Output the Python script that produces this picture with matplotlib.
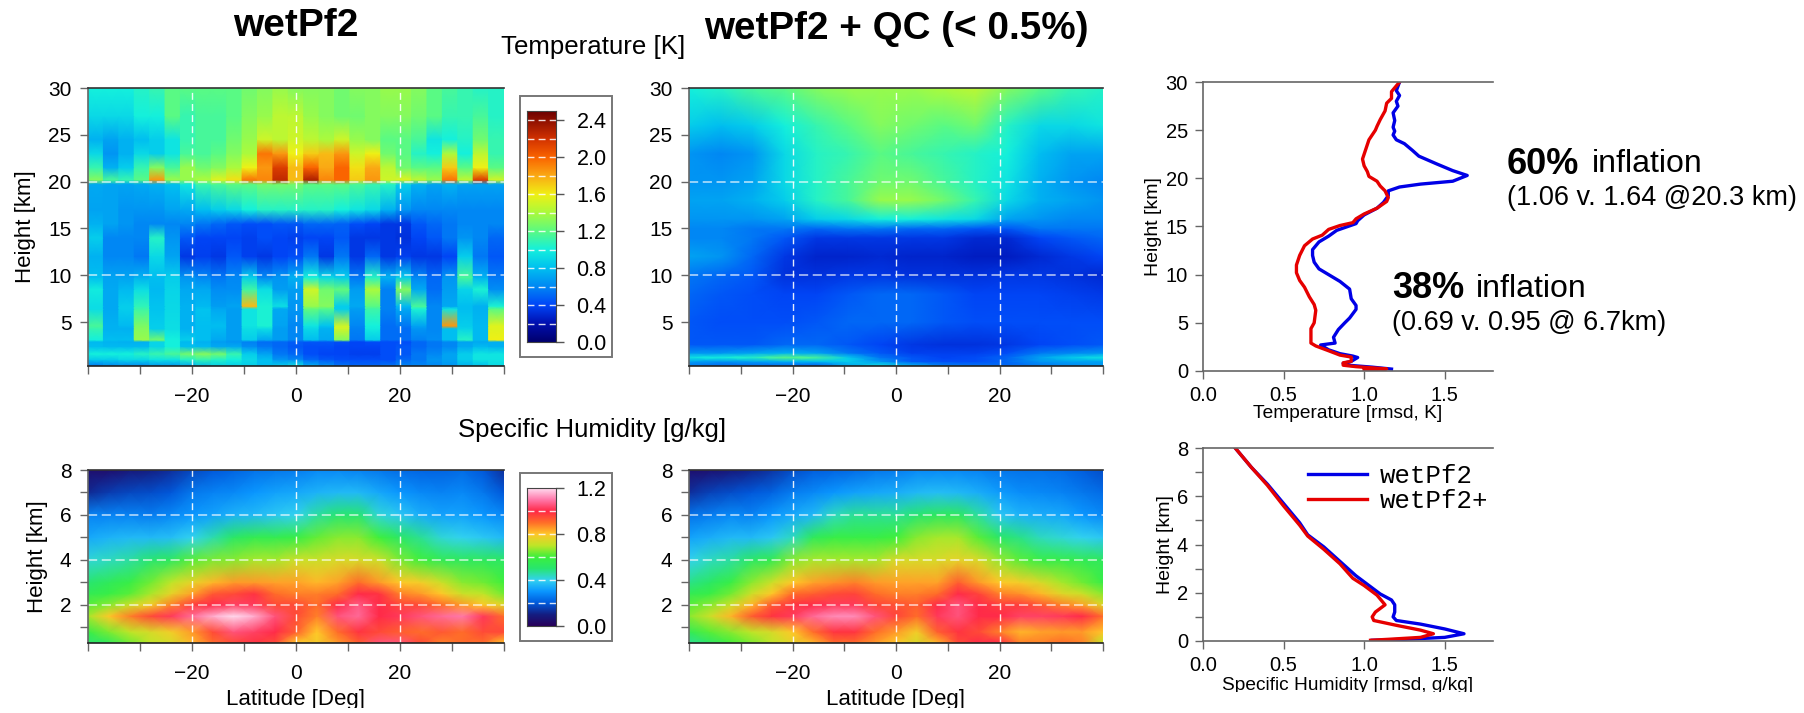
import numpy as np
import matplotlib
matplotlib.use("Agg")
from matplotlib import pyplot as plt
from matplotlib.colors import LinearSegmentedColormap
from matplotlib.patches import Rectangle
from matplotlib.ticker import MultipleLocator

plt.rcParams["font.family"] = ["Liberation Sans", "DejaVu Sans"]
plt.rcParams["axes.unicode_minus"] = True

W, H = 1804, 713

# temperature rmsd, wetPf2
t_heights = [0.3, 1.0, 1.6, 2.4, 2.9, 3.1, 4.3, 4.6, 6.4, 6.7, 8.5, 9.8, 12, 14, 15.5, 17, 19.7, 20.2, 21.5, 23, 24.5, 27, 30]
t_wet = [
    [.55,.6,.6,.6,.65,.65,.7,.8,.85,.85,.85,.8,.85,.95,.75,.65,.55,.5,.5,.55,.6,.6,.6,.65,.75,.8,.9],
    [.85,.85,.9,.9,.95,.95,1.05,1.1,1.05,1.0,.9,.8,.65,.6,.5,.45,.42,.42,.42,.42,.5,.55,.65,.7,.85,.95,.95],
    [1.0,1.0,1.0,1.05,1.1,1.15,1.25,1.3,1.25,1.1,.85,.7,.55,.5,.42,.4,.4,.38,.38,.42,.45,.55,.6,.7,.85,.95,.95],
    [.8,.78,.78,.78,.88,1.0,.8,.78,.72,.72,.62,.55,.5,.45,.42,.42,.4,.4,.4,.42,.45,.5,.55,.6,.72,.78,.75],
    [.78,.76,.75,.75,.88,1.0,.78,.75,.68,.65,.58,.52,.5,.47,.45,.45,.42,.4,.42,.42,.42,.5,.55,.6,.7,.72,.74],
    [1.0,.8,.8,1.35,1.25,1.0,.85,.8,.72,.68,.85,.72,.68,.6,.8,.72,1.3,.55,.85,.52,.52,.58,.62,.8,1.05,.78,1.6],
    [1.1,.75,.75,1.3,.85,.92,.75,.8,.78,.68,.92,.92,.68,.6,.9,.75,1.5,.58,.98,.52,.52,.65,.6,.8,.88,.78,1.55],
    [1.15,.75,.78,1.28,.85,.92,.75,.8,.8,.68,.95,1.02,.7,.6,.95,.82,1.5,.6,1.0,.52,.55,.7,.6,1.85,.85,.78,1.55],
    [.92,.72,.85,1.12,.82,.9,.75,.82,.72,.68,.95,1.02,.72,.65,1.22,1.18,.85,.68,1.12,.58,.72,1.02,.6,.95,.8,.75,1.2],
    [.92,.72,.85,1.08,.82,.9,.75,.78,.68,.7,1.75,1.02,.92,.65,1.35,1.3,.85,.72,1.2,.58,.78,1.15,.6,.72,.8,.75,1.02],
    [.98,.72,.78,.92,.78,.88,.72,.72,.62,.62,1.12,.92,.68,.68,1.5,1.25,1.22,.68,1.4,.58,1.3,.72,.52,.68,.88,1.02,.62],
    [.8,.7,.7,.75,.8,.85,.65,.6,.55,.6,.85,.6,.65,.75,1.0,.9,.85,.55,1.05,.75,.85,.6,.5,.65,1.15,.75,.55],
    [.75,.6,.6,.55,.9,.7,.35,.38,.35,.45,.38,.35,.4,.42,.55,.35,.55,.35,.5,.35,.38,.35,.35,.4,.85,.55,.45],
    [.85,.6,.6,.6,1.05,.65,.45,.4,.4,.4,.38,.42,.4,.38,.4,.4,.45,.35,.35,.35,.33,.4,.45,.55,.65,.6,.5],
    [.75,.7,.65,.6,.6,.6,.6,.55,.5,.45,.42,.42,.45,.45,.5,.5,.48,.42,.4,.35,.35,.45,.5,.55,.6,.6,.6],
    [.7,.7,.65,.65,.65,.7,.72,.8,.85,.9,1.0,1.05,1.05,1.05,1.05,1.05,1.0,.95,.9,.75,.65,.6,.6,.6,.6,.6,.6],
    [.72,.7,.7,.72,.75,.8,.95,1.1,1.15,1.2,1.2,1.25,1.25,1.25,1.2,1.2,1.2,1.15,1.1,1.05,.85,.75,.7,.75,.7,.7,.7],
    [1.3,1.15,1.1,1.2,1.85,1.35,1.35,1.4,1.55,1.65,1.95,1.9,2.25,1.75,2.3,1.9,2.0,1.7,1.85,1.5,1.55,1.45,1.35,1.95,1.45,2.15,1.5],
    [1.1,.75,.85,1.1,1.3,1.15,1.35,1.25,1.3,1.4,1.6,1.85,2.15,1.75,2.0,1.8,2.0,1.65,1.8,1.45,1.25,1.2,1.2,1.7,1.2,1.6,1.2],
    [.9,.65,.75,.9,.85,.95,1.15,1.15,1.2,1.3,1.4,1.95,1.85,1.6,1.7,1.75,1.85,1.5,1.6,1.25,1.2,1.05,1.0,1.4,1.0,1.45,1.1],
    [.75,.7,.75,.8,.85,.95,1.1,1.15,1.15,1.25,1.35,1.5,1.45,1.5,1.45,1.4,1.5,1.35,1.3,1.2,1.2,1.15,.95,1.0,1.05,1.25,1.1],
    [.9,.9,.9,1.0,1.0,1.2,1.1,1.15,1.15,1.2,1.3,1.35,1.45,1.45,1.35,1.3,1.25,1.25,1.3,1.3,1.3,1.25,1.2,1.1,1.1,1.15,1.05],
    [1.0,1.0,1.0,1.05,1.1,1.2,1.2,1.2,1.2,1.2,1.25,1.3,1.35,1.3,1.3,1.3,1.25,1.3,1.3,1.35,1.35,1.3,1.2,1.15,1.1,1.05,1.05],
]

# temperature rmsd, wetPf2 + QC
tqc_heights = [0.3, 0.8, 1.2, 1.7, 2.6, 5, 8, 10, 12, 14, 15, 16, 18, 20, 23, 26, 30]
t_qc = [
    [.55,.5,.5,.5,.45,.7,.95,.8,.6,.55,.5,.55,.6,.65],
    [.7,.65,.7,.75,.8,.85,.65,.45,.42,.42,.5,.65,.7,.7],
    [.95,1.0,1.05,1.2,1.15,.85,.55,.45,.4,.42,.5,.7,.85,.95],
    [.65,.65,.7,.75,.7,.55,.45,.38,.38,.38,.42,.55,.6,.65],
    [.45,.45,.45,.5,.5,.45,.4,.35,.33,.33,.35,.4,.42,.45],
    [.45,.42,.42,.42,.45,.5,.5,.5,.45,.42,.42,.42,.42,.42],
    [.5,.45,.42,.4,.4,.45,.5,.5,.45,.4,.4,.4,.38,.36],
    [.55,.5,.45,.33,.33,.35,.35,.33,.33,.33,.35,.35,.33,.3],
    [.7,.65,.5,.35,.28,.28,.3,.28,.28,.25,.25,.3,.35,.4],
    [.6,.6,.55,.45,.35,.35,.35,.35,.35,.3,.3,.4,.45,.5],
    [.6,.6,.55,.55,.5,.55,.55,.5,.5,.45,.45,.55,.55,.55],
    [.65,.65,.65,.7,.85,.9,1.0,1.0,.95,.9,.7,.65,.6,.6],
    [.7,.7,.75,.85,1.05,1.15,1.35,1.35,1.25,1.1,.9,.75,.7,.65],
    [.65,.65,.7,.9,1.05,1.15,1.25,1.25,1.15,1.05,.95,.75,.65,.6],
    [.65,.6,.65,.9,1.05,1.1,1.2,1.15,1.1,1.05,1.0,.8,.7,.7],
    [.85,.8,.85,1.0,1.1,1.2,1.3,1.25,1.2,1.25,1.05,.9,.9,.95],
    [1.0,1.05,1.15,1.2,1.3,1.35,1.35,1.35,1.4,1.45,1.3,1.2,1.1,1.05],
]

# specific humidity rmsd
q_heights = [0.3, 0.8, 1.5, 2, 2.5, 3, 4, 5, 6, 7, 8]
q_wet = [
    [.5,.54,.64,.7,.74,.82,.9,.95,.98,.95,.8,.78,.85,.92,1.05,1.05,.95,.88,.9,.9,.8],
    [.58,.65,.7,.74,.78,.85,.95,1.05,1.03,1.0,.92,.8,.9,.98,.95,.92,.9,.93,.9,.95,.95],
    [.68,.8,.88,.95,1.02,1.08,1.15,1.2,1.15,1.05,.95,.88,1.05,1.08,1.0,1.02,1.05,1.08,1.1,1.02,.9],
    [.62,.66,.72,.78,.88,.97,1.0,1.03,1.02,.95,.95,.9,1.0,1.06,1.0,.96,.95,.9,.85,.8,.75],
    [.55,.58,.62,.68,.76,.84,.93,.95,.98,.9,.88,.88,.9,1.0,.98,.88,.85,.8,.72,.7,.64],
    [.5,.54,.58,.64,.7,.76,.82,.85,.85,.84,.84,.82,.84,.9,.85,.8,.78,.72,.66,.64,.6],
    [.42,.44,.46,.5,.53,.62,.65,.66,.68,.68,.72,.72,.74,.74,.72,.65,.6,.55,.53,.53,.52],
    [.33,.35,.36,.36,.37,.4,.45,.52,.56,.56,.58,.63,.66,.66,.6,.52,.47,.42,.4,.38,.36],
    [.27,.27,.27,.26,.28,.3,.32,.35,.36,.38,.4,.46,.5,.5,.42,.38,.34,.32,.32,.3,.28],
    [.12,.15,.17,.18,.2,.25,.27,.28,.3,.32,.33,.35,.36,.36,.33,.3,.28,.27,.28,.25,.2],
    [.05,.05,.08,.1,.13,.17,.2,.22,.24,.25,.26,.28,.28,.27,.25,.23,.22,.22,.23,.2,.13],
]
q_qc = [
    [.47,.52,.6,.65,.7,.76,.82,.9,.9,.85,.8,.74,.82,.95,1.0,1.0,.88,.88,.9,.88,.7],
    [.55,.62,.66,.7,.74,.8,.9,.98,.98,.9,.85,.78,.92,.98,.95,.88,.82,.84,.85,.85,.8],
    [.66,.72,.82,.92,.98,1.02,1.08,1.12,1.12,1.05,.96,.9,1.02,1.05,1.0,1.0,1.03,1.03,1.02,1.0,.9],
    [.62,.66,.72,.82,.93,.98,1.0,1.02,1.02,.96,.94,.92,1.0,1.05,1.0,.97,.97,.93,.88,.84,.75],
    [.55,.58,.64,.72,.8,.9,.92,.95,.96,.9,.88,.88,.9,1.0,.96,.88,.86,.82,.75,.72,.66],
    [.48,.52,.58,.66,.72,.8,.84,.86,.88,.85,.84,.84,.84,.92,.85,.8,.78,.74,.68,.64,.58],
    [.4,.44,.46,.52,.56,.66,.68,.68,.68,.68,.74,.74,.74,.76,.74,.67,.62,.58,.57,.55,.53],
    [.32,.34,.36,.36,.38,.44,.54,.58,.58,.58,.6,.66,.68,.68,.62,.52,.48,.44,.42,.4,.38],
    [.24,.26,.28,.27,.3,.33,.36,.44,.47,.47,.47,.5,.53,.53,.46,.38,.35,.34,.33,.3,.28],
    [.13,.16,.18,.2,.22,.26,.28,.3,.32,.33,.34,.36,.37,.36,.34,.31,.29,.28,.27,.25,.23],
    [.05,.06,.08,.11,.14,.18,.21,.22,.23,.25,.26,.28,.28,.28,.27,.25,.24,.24,.23,.21,.18],
]

# profiles, (rmsd, height)
t_blue_x = [1.17,1.05,.9,.87,.92,.96,.93,.85,.78,.73,.82,.81,.84,.88,.91,.95,.95,.92,.91,.85,.78,.72,.69,.68,.68,.72,.78,.83,.95,.96,1.0,1.08,1.12,1.15,1.15,1.22,1.35,1.55,1.64,1.55,1.45,1.34,1.3,1.25,1.2,1.18,1.19,1.18,1.19,1.18,1.21,1.2,1.22,1.2,1.22]
t_blue_h = [.2,.4,.6,.8,1.0,1.4,1.55,1.8,2.2,2.7,2.9,3.5,4.3,5.0,5.5,6.4,6.8,7.5,8.5,9.3,10.0,10.6,11.3,12.0,12.6,13.4,14.0,14.6,15.3,15.6,16.2,16.9,17.5,18.2,18.7,19.1,19.4,19.7,20.3,20.8,21.5,22.3,22.9,23.6,24.0,24.5,24.9,25.3,26.0,26.8,27.5,28.0,28.6,29.1,30.0]
t_red_x = [1.0,1.14,.95,.87,.87,.92,.92,.85,.78,.7,.67,.67,.67,.69,.7,.69,.66,.63,.6,.58,.58,.6,.63,.68,.74,.78,.85,.93,.95,1.0,1.08,1.14,1.15,1.13,1.1,1.08,1.03,1.02,1.0,.99,1.01,1.03,1.07,1.08,1.1,1.13,1.14,1.17,1.17,1.22]
t_red_h = [.1,.22,.45,.6,.85,1.0,1.45,1.65,2.1,2.6,2.9,3.5,4.4,5.0,6.3,6.9,7.7,8.7,9.4,10.2,11.0,12.0,13.0,13.7,14.1,14.7,15.1,15.4,15.8,16.3,16.9,17.6,18.0,18.7,19.2,19.7,20.2,20.7,21.3,22.0,23.0,24.0,25.0,25.4,26.1,27.0,27.8,28.3,29.0,30.0]
q_blue_x = [.2,.3,.4,.5,.6,.65,.75,.85,.95,1.03,1.1,1.17,1.19,1.19,1.18,1.2,1.35,1.5,1.62,1.5,1.25,1.05]
q_blue_h = [8,7.2,6.5,5.7,4.9,4.4,3.9,3.3,2.7,2.3,1.95,1.7,1.5,1.2,1.0,.85,.7,.5,.3,.15,.07,.03]
q_red_x = [.2,.3,.4,.5,.6,.65,.75,.85,.93,1.0,1.08,1.13,1.07,1.05,1.06,1.2,1.35,1.43,1.35,1.15,1.04]
q_red_h = [8,7.2,6.45,5.6,4.8,4.35,3.8,3.2,2.6,2.3,1.9,1.5,1.2,1.0,.85,.65,.45,.3,.15,.07,.03]

t_cmap = LinearSegmentedColormap.from_list("t_cmap", [
    (0.0, "#00006e"), (0.08, "#0010b0"), (0.16, "#0046f8"), (0.24, "#0088f4"), (0.32, "#00c0f0"),
    (0.4, "#14f0dc"), (0.48, "#5afa82"), (0.56, "#aafa3c"), (0.64, "#f0f014"),
    (0.72, "#faaa14"), (0.8, "#fa6400"), (0.88, "#d23200"), (1.0, "#6e0000")])
q_cmap = LinearSegmentedColormap.from_list("q_cmap", [
    (0.0, "#28005a"), (0.083, "#141e82"), (0.167, "#005adc"), (0.25, "#0a96ff"),
    (0.333, "#32d2f0"), (0.417, "#28e66e"), (0.5, "#3cf03c"), (0.583, "#bee628"),
    (0.667, "#ffc828"), (0.75, "#ff6e28"), (0.833, "#ff2846"), (0.917, "#ff78aa"),
    (1.0, "#ffdcf0")])


def add_axes(x0, y0, x1, y1):
    return fig.add_axes([x0 / W, 1 - y1 / H, (x1 - x0) / W, (y1 - y0) / H])


def style(ax, gray="#666666"):
    for side in ["top", "bottom", "left"]:
        ax.spines[side].set_color(gray)
        ax.spines[side].set_linewidth(1.2)
    ax.spines["right"].set_visible(False)
    ax.tick_params(which="both", length=5.8, width=1, color=gray, labelsize=15, pad=6)


def heatmap(box, heights, table, cmap, vmax, ylim, ymajor, grid_y, ylabel=None, xlabel=False, blocks=False):
    ax = add_axes(*box)
    table = np.array(table)
    n = table.shape[1]
    if blocks:
        # each latitude column keeps its own flat width, smooth only with height
        edges = np.linspace(-40, 40, n + 1)
        lats = np.repeat(edges, 2)[1:-1]
        table = np.repeat(table, 2, axis=1)
    else:
        lats = np.linspace(-40, 40, n)
    ax.pcolormesh(lats, heights, table, cmap=cmap, vmin=0, vmax=vmax, shading="gouraud", rasterized=True)
    ax.set_xlim(-40, 40)
    ax.set_ylim(*ylim)
    ax.set_xticks(np.arange(-40, 41, 10))
    ax.set_xticklabels(["", "", "\u221220", "", "0", "", "20", "", ""])
    ax.yaxis.set_major_locator(MultipleLocator(ymajor))
    for x in [-20, 0, 20]:
        ax.axvline(x, color="white", lw=1, ls=(0, (5, 3)), alpha=0.9)
    for y in grid_y:
        ax.axhline(y, color="white", lw=1.1, ls=(0, (6, 3)), alpha=0.75)
    style(ax)
    ax.spines["top"].set_color("#333333")
    ax.spines["bottom"].set_color("#222222")
    ax.tick_params(axis="x", pad=9)
    if xlabel:
        fig.text((box[0] + box[2]) / 2 / W, 1 - 700 / H, "Latitude [Deg]", fontsize=16, ha="center", va="center")
    if ylabel is not None:
        fig.text(ylabel / W, 1 - (box[1] + box[3]) / 2 / H, "Height [km]", fontsize=16, rotation=90, ha="center", va="center")
    return ax


def colorbar(box, bar, cmap, vmax, ticks, labels, steps):
    fig.add_artist(Rectangle((box[0] / W, 1 - box[3] / H), (box[2] - box[0]) / W, (box[3] - box[1]) / H,
                             transform=fig.transFigure, fc="white", ec="#777777", lw=1.4, zorder=-1))
    ax = add_axes(*bar)
    grad = np.linspace(0, vmax, 256).reshape(-1, 1)
    ax.imshow(grad, origin="lower", aspect="auto", cmap=cmap, vmin=0, vmax=vmax, extent=[0, 1, 0, vmax])
    ax.set_xticks([])
    ax.yaxis.tick_right()
    ax.set_yticks(ticks)
    ax.set_yticklabels(labels)
    ax.tick_params(axis="y", length=5.8, width=1, color="#555555", labelsize=15.5, pad=9)
    for s in steps:
        ax.axhline(s, color="white", lw=1, ls=(0, (5, 3)), alpha=0.85)
    for spine in ax.spines.values():
        spine.set_color("#444444")
        spine.set_linewidth(0.8)


def profile(box, blue, red, ylim, ymajor, xlabel, xlabel_y, ylabel_x):
    ax = add_axes(*box)
    ax.plot(blue[0], blue[1], color="#0000e6", lw=2.4, label="wetPf2")
    ax.plot(red[0], red[1], color="#e60000", lw=2.4, label="wetPf2+")
    ax.set_xlim(0, 1.8)
    ax.set_ylim(*ylim)
    ax.set_xticks([0, 0.5, 1.0, 1.5])
    ax.yaxis.set_major_locator(MultipleLocator(ymajor))
    style(ax)
    ax.tick_params(labelsize=14.5, pad=5)
    fig.text((box[0] + 0.5 * (box[2] - box[0])) / W, 1 - xlabel_y / H, xlabel, fontsize=13.8, ha="center", va="center")
    fig.text(ylabel_x / W, 1 - (box[1] + box[3]) / 2 / H, "Height [km]", fontsize=14, rotation=90, ha="center", va="center")
    return ax


fig = plt.figure(figsize=(W / 100, H / 100), dpi=100, facecolor="white")

heatmap((88, 88, 504, 366), t_heights, t_wet, t_cmap, 2.5, (0.3, 30), 5, [10, 20], ylabel=26, blocks=True)
heatmap((689, 88, 1103, 366), tqc_heights, t_qc, t_cmap, 2.5, (0.3, 30), 5, [10, 20])
ax_q = heatmap((88, 470, 504, 643), q_heights, q_wet, q_cmap, 1.2, (0.3, 8), 2, [2, 4, 6], ylabel=37, xlabel=True)
ax_q.yaxis.set_minor_locator(MultipleLocator(1))
ax_q2 = heatmap((689, 470, 1103, 643), q_heights, q_qc, q_cmap, 1.2, (0.3, 8), 2, [2, 4, 6], xlabel=True)
ax_q2.yaxis.set_minor_locator(MultipleLocator(1))

colorbar((520, 96, 612, 357), (527, 111, 556, 342), t_cmap, 2.5,
         [0, 0.4, 0.8, 1.2, 1.6, 2.0, 2.4], ["0.0", "0.4", "0.8", "1.2", "1.6", "2.0", "2.4"],
         np.arange(0.2, 2.5, 0.2))
colorbar((520, 473, 612, 641), (527, 488, 556, 626), q_cmap, 1.2,
         [0, 0.4, 0.8, 1.2], ["0.0", "0.4", "0.8", "1.2"], np.arange(0.2, 1.2, 0.2))

profile((1203, 82, 1493, 371), (t_blue_x, t_blue_h), (t_red_x, t_red_h), (0, 30), 5,
        "Temperature [rmsd, K]", 413, 1153)
ax_p = profile((1203, 448, 1493, 641), (q_blue_x, q_blue_h), (q_red_x, q_red_h), (0, 8), 2,
               "Specific Humidity [rmsd, g/kg]", 685, 1165)
ax_p.yaxis.set_minor_locator(MultipleLocator(1))
ax_p.legend(loc="upper left", bbox_to_anchor=(0.3, 1.01), frameon=False, handlelength=2.3,
            handletextpad=0.5, labelspacing=0.05, borderpad=0.2,
            prop={"family": "Liberation Mono", "size": 18.5})


def put(px, py, s, **kw):
    fig.text(px / W, 1 - py / H, s, **kw)


put(296, 26, "wetPf2", fontsize=28, fontweight="bold", ha="center", va="center")
put(896, 29, "wetPf2 + QC (< 0.5%)", fontsize=27.8, fontweight="bold", ha="center", va="center")
put(593, 47, "Temperature [K]", fontsize=18.6, ha="center", va="center")
put(592, 430, "Specific Humidity [g/kg]", fontsize=18.5, ha="center", va="center")

put(1507, 164, "60%", fontsize=26, fontweight="bold", va="center")
put(1592, 164, "inflation", fontsize=23, va="center")
put(1507, 198, "(1.06 v. 1.64 @20.3 km)", fontsize=19.5, va="center")
put(1392, 289, "38%", fontsize=26, fontweight="bold", va="center")
put(1476, 289, "inflation", fontsize=23, va="center")
put(1392, 323, "(0.69 v. 0.95 @ 6.7km)", fontsize=19.5, va="center")

# the bottom labels are cut off in the source image
fig.add_artist(Rectangle((1190 / W, 0), 310 / W, (H - 692) / H, transform=fig.transFigure, fc="white", ec="none", zorder=5))
fig.add_artist(Rectangle((200 / W, 0), 800 / W, (H - 708) / H, transform=fig.transFigure, fc="white", ec="none", zorder=5))

plt.savefig("out.png", dpi=100)
